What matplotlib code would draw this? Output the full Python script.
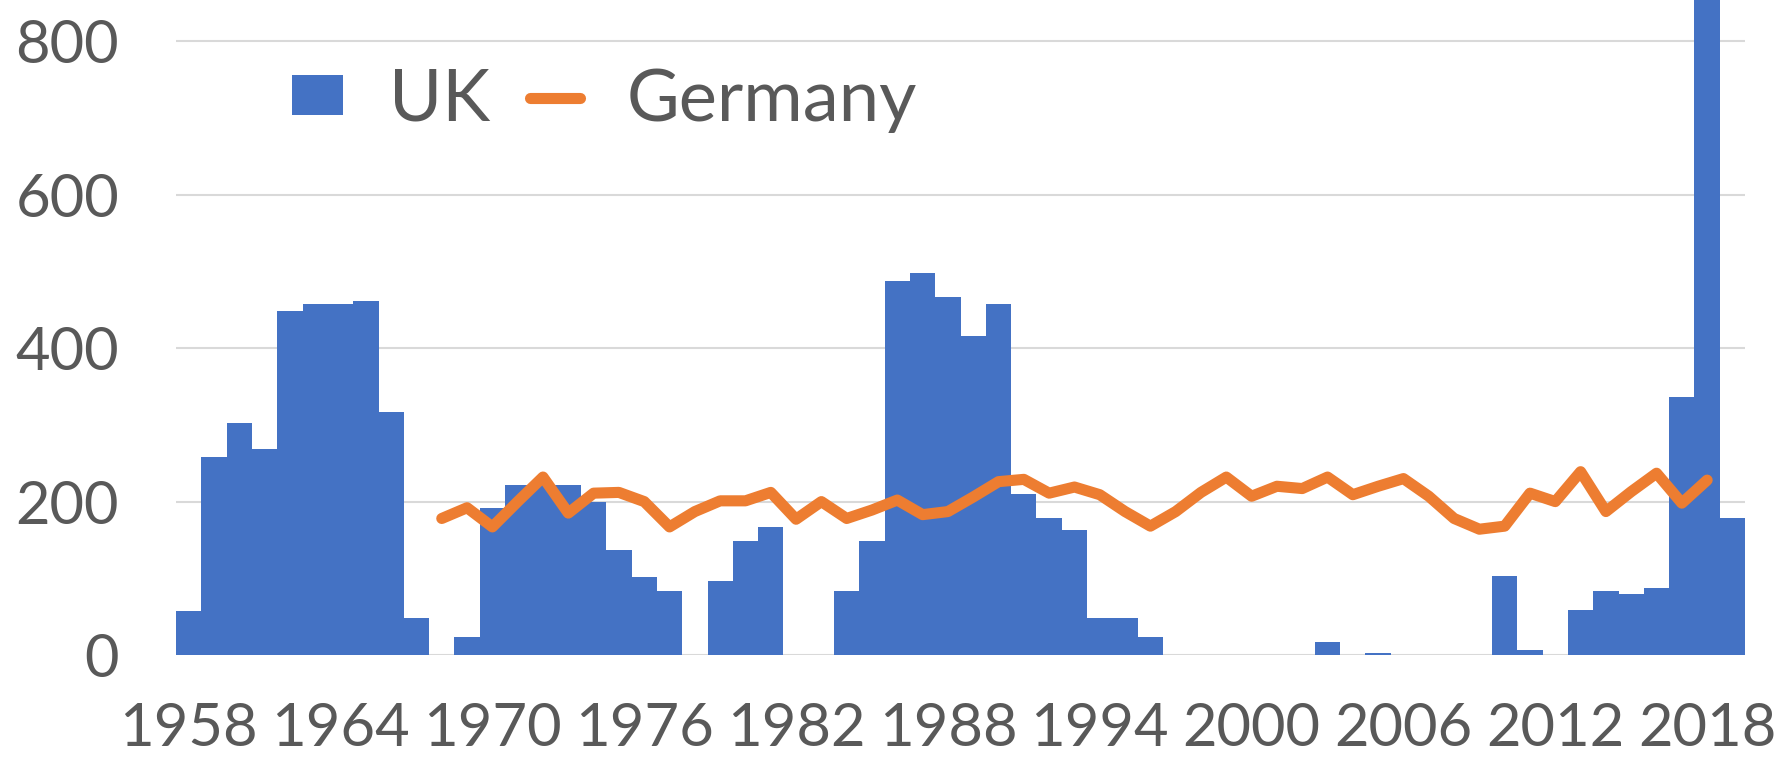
import matplotlib.pyplot as plt
import numpy as np

plt.rcParams['font.family'] = ['Lato', 'DejaVu Sans']

# UK series, one bar per year 1958..2019 (2018 runs off the top of the chart)
years = list(range(1958, 2020))
uk = [58, 258, 303, 268, 448, 457, 457, 462, 317, 48,
      0, 23, 192, 222, 222, 222, 200, 137, 102, 83,
      0, 96, 148, 167, 0, 0, 83, 148, 488, 498,
      467, 416, 457, 210, 178, 163, 48, 48, 23, 0,
      0, 0, 0, 0, 0, 17, 0, 3, 0, 0,
      0, 0, 103, 7, 0, 59, 84, 80, 87, 336,
      1000, 178]

# Germany series, 1968..2018
de_years = list(range(1968, 2019))
germany = [178, 192, 167, 200, 232, 185, 211, 212, 200, 167,
           187, 201, 201, 212, 177, 200, 178, 189, 202, 183,
           187, 206, 226, 229, 211, 219, 209, 187, 168, 187,
           212, 232, 207, 220, 217, 232, 209, 220, 230, 207,
           178, 164, 168, 211, 200, 239, 187, 213, 237, 198,
           228]

yticks = [0, 200, 400, 600, 800]
xtick_years = years[::6]

BLUE = '#4472C4'
ORANGE = '#ED7D31'
TEXT = '#595959'


def main() -> None:
    fig = plt.figure(figsize=(17.8, 7.65), dpi=100)
    ax = fig.add_axes([0.0989, 0.1438, 0.8815, 0.8562])

    bars = ax.bar(years, uk, width=1.0, color=BLUE, label='UK', zorder=2)
    line, = ax.plot(de_years, germany, color=ORANGE, lw=8, label='Germany',
                    solid_joinstyle='round', solid_capstyle='round', zorder=3)

    ax.set_xlim(years[0] - 0.5, years[-1] + 0.5)
    ax.set_ylim(0, 854)
    ax.set_yticks(yticks)
    ax.set_xticks(xtick_years)
    ax.set_xticklabels([str(y) for y in xtick_years])

    ax.grid(axis='y', color='#d9d9d9', lw=1.5)
    ax.set_axisbelow(True)
    for s in ax.spines.values():
        s.set_visible(False)
    ax.tick_params(axis='both', length=0, labelsize=43, colors=TEXT)
    ax.tick_params(axis='y', pad=41)
    ax.tick_params(axis='x', pad=34)

    leg = ax.legend([bars, line], ['UK', 'Germany'],
                    loc='center left', bbox_to_anchor=(0.074, 0.847), ncol=2,
                    frameon=False, fontsize=52, handlelength=0.7,
                    handleheight=0.46, handletextpad=0.64, columnspacing=0.55,
                    borderaxespad=0, borderpad=0)
    for t in leg.get_texts():
        t.set_color(TEXT)

    fig.savefig('out.png', dpi=100, facecolor='white')


if __name__ == "__main__":
    main()
